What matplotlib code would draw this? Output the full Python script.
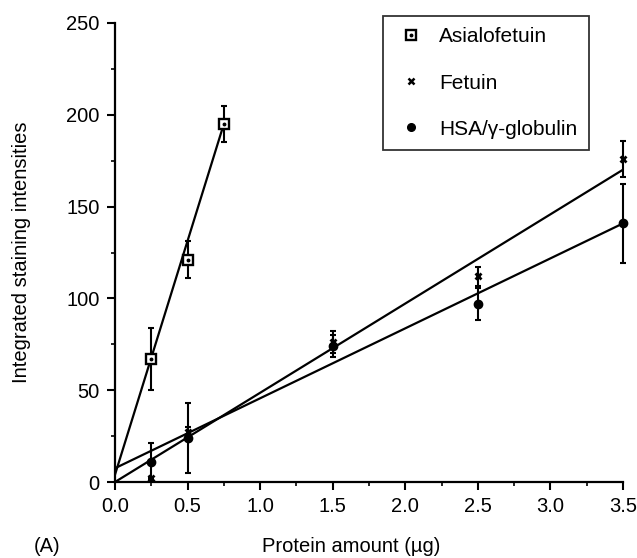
import matplotlib
matplotlib.use("Agg")
import matplotlib.pyplot as plt
import numpy as np
from matplotlib.legend_handler import HandlerTuple
from matplotlib.lines import Line2D

plt.rcParams["font.family"] = ["Liberation Sans", "DejaVu Sans"]
FS = 14.5

# ---- data ----
asialo_x = [0.25, 0.5, 0.75]
asialo_y = [67, 121, 195]
asialo_err = [17, 10, 10]

fetuin_x = [0.25, 0.5, 1.5, 2.5, 3.5]
fetuin_y = [2, 27, 76, 112, 176]
fetuin_err = [0, 3, 6, 5, 10]

hsa_x = [0.25, 0.5, 1.5, 2.5, 3.5]
hsa_y = [11, 24, 74, 97, 141]
hsa_err = [10, 19, 6, 8.5, 21.5]

# linear fits drawn in the figure: (intercept, slope, x_end)
fit_asialo = (4.0, 254.7, 0.75)
fit_fetuin = (0.0, 48.6, 3.5)
fit_hsa = (7.5, 38.1, 3.5)

xticks = [0.0, 0.5, 1.0, 1.5, 2.0, 2.5, 3.0, 3.5]
yticks = [0, 50, 100, 150, 200, 250]

W, H = 637, 558
fig = plt.figure(figsize=(W / 100, H / 100), dpi=100)
ax = fig.add_axes([115 / W, 1 - 482 / H, (623 - 115) / W, (482 - 23) / H])

lw = 1.6
for b, m, xe in (fit_asialo, fit_fetuin, fit_hsa):
    xx = np.array([0.0, xe])
    ax.plot(xx, b + m * xx, color="black", lw=lw, solid_capstyle="butt", clip_on=False)

eb = dict(fmt="none", ecolor="black", elinewidth=1.5, capsize=2.3, capthick=1.5, clip_on=False)
ax.errorbar(asialo_x, asialo_y, yerr=asialo_err, **eb)
ax.errorbar(fetuin_x, fetuin_y, yerr=fetuin_err, **eb)
ax.errorbar(hsa_x, hsa_y, yerr=hsa_err, **eb)

sq = dict(marker="s", ms=7.4, mfc="white", mec="black", mew=1.7, ls="none", clip_on=False, zorder=5)
dot = dict(marker="o", ms=1.8, color="black", ls="none", clip_on=False, zorder=6)
cr = dict(marker="x", ms=4.5, mew=2.0, color="black", ls="none", clip_on=False, zorder=5)
ci = dict(marker="o", ms=6.0, color="black", ls="none", clip_on=False, zorder=5)

ax.plot(asialo_x, asialo_y, **sq)
ax.plot(asialo_x, asialo_y, **dot)
ax.plot(fetuin_x, fetuin_y, **cr)
ax.plot(hsa_x, hsa_y, **ci)

ax.set_xlim(0, 3.5)
ax.set_ylim(0, 250)
ax.set_xticks(xticks)
ax.set_xticklabels([f"{v:.1f}" for v in xticks])
ax.set_yticks(yticks)
ax.set_xticks(np.arange(0.25, 3.5, 0.5), minor=True)
ax.set_yticks(np.arange(25, 250, 50), minor=True)
for s in ("top", "right"):
    ax.spines[s].set_visible(False)
for s in ("left", "bottom"):
    ax.spines[s].set_linewidth(1.6)
ax.tick_params(which="major", direction="out", length=6, width=1.5, labelsize=FS, pad=5)
ax.tick_params(which="minor", direction="out", length=3, width=1.2)

h_sq = (Line2D([], [], **{**sq, "ms": 6.5}), Line2D([], [], **dot))
h_cr = Line2D([], [], **{**cr, "ms": 3.8, "mew": 1.8})
h_ci = Line2D([], [], **{**ci, "ms": 5.5})
leg = ax.legend([h_sq, h_cr, h_ci], ["Asialofetuin", "Fetuin", "HSA/\u03b3-globulin"],
                handler_map={tuple: HandlerTuple(ndivide=1, pad=0)},
                loc="upper left", bbox_to_anchor=(383 / W, 1 - 16 / H),
                bbox_transform=fig.transFigure, borderaxespad=0,
                prop={"size": 15}, frameon=True, fancybox=False, edgecolor="black",
                handlelength=1.6, handletextpad=0.55, labelspacing=1.3, borderpad=0.55)
leg.get_frame().set_linewidth(1.3)

fig.text(22 / W, 1 - 252 / H, "Integrated staining intensities", rotation=90,
         ha="center", va="center", fontsize=FS)
fig.text(351 / W, 1 - 547 / H, "Protein amount (\u00b5g)", ha="center", va="center", fontsize=FS)
fig.text(47 / W, 1 - 547 / H, "(A)", ha="center", va="center", fontsize=FS)

fig.savefig("out.png", dpi=100)
